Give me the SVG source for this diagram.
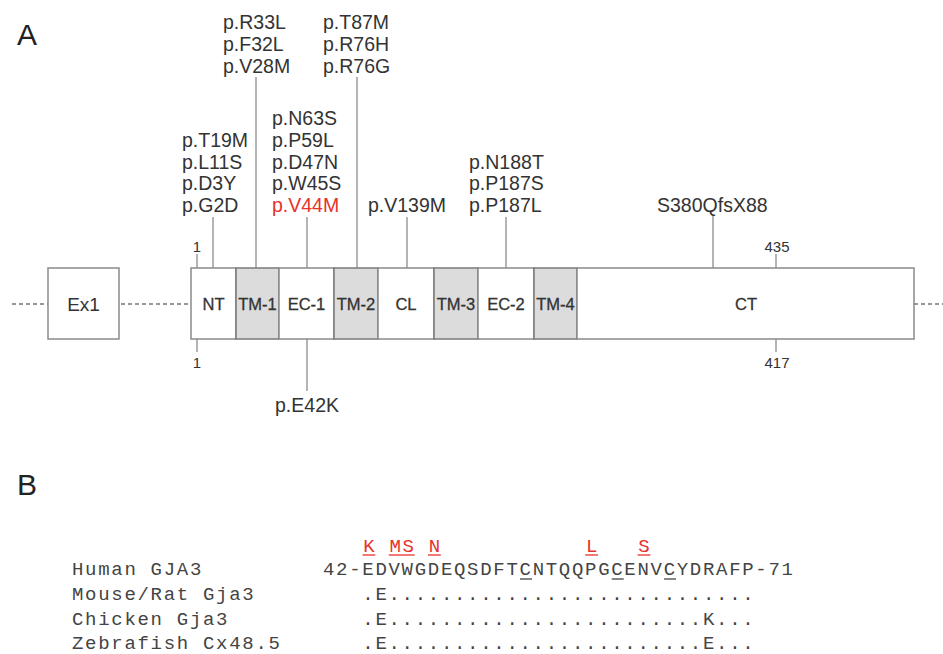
<svg xmlns="http://www.w3.org/2000/svg" width="943" height="654" viewBox="0 0 943 654">
<style>
.bg{fill:#fff}
.box{fill:#fff;stroke:#8a8a8a;stroke-width:1.5}
.tm{fill:#dcdcdc;stroke:#7a7a7a;stroke-width:1.5}
.dash{stroke:#777;stroke-width:1.5;stroke-dasharray:4 3;fill:none}
.ln{stroke:#8c8c8c;stroke-width:1.3;fill:none}
.dom{font-family:"Liberation Sans",Arial,sans-serif;font-size:16.5px;fill:#333;stroke:#333;stroke-width:0.3;text-anchor:middle}
.ex{font-family:"Liberation Sans",Arial,sans-serif;font-size:19px;fill:#333;text-anchor:middle}
.mut{font-family:"Liberation Sans",Arial,sans-serif;font-size:19.5px;fill:#333}
.red{fill:#e8322c}
.num{font-family:"Liberation Sans",Arial,sans-serif;font-size:15px;fill:#333;text-anchor:middle}
.pan{font-family:"Liberation Sans",Arial,sans-serif;font-size:30px;fill:#222}
.mono{font-family:"Liberation Mono","Courier New",monospace;font-size:19px;fill:#444;letter-spacing:1.7px}
.monor{font-family:"Liberation Mono","Courier New",monospace;font-size:19px;fill:#e8322c;text-anchor:middle}
.ul{stroke:#e8322c;stroke-width:1.3}
.ulk{stroke:#444;stroke-width:1.3}
</style>
<rect class="bg" x="0" y="0" width="943" height="654"/>

<text class="pan" x="17" y="45">A</text>
<text class="pan" x="17" y="495">B</text>

<g id="connectors">
  <line class="dash" x1="12" y1="304" x2="48" y2="304"/>
  <line class="dash" x1="121" y1="304" x2="191" y2="304"/>
  <line class="dash" x1="914" y1="304" x2="943" y2="304"/>
  <line class="ln" x1="197" y1="254" x2="197" y2="268"/>
  <line class="ln" x1="213" y1="217" x2="213" y2="268"/>
  <line class="ln" x1="256" y1="77" x2="256" y2="268"/>
  <line class="ln" x1="307" y1="217" x2="307" y2="268"/>
  <line class="ln" x1="357" y1="77" x2="357" y2="268"/>
  <line class="ln" x1="407" y1="217" x2="407" y2="268"/>
  <line class="ln" x1="506" y1="217" x2="506" y2="268"/>
  <line class="ln" x1="713" y1="216" x2="713" y2="268"/>
  <line class="ln" x1="776" y1="254" x2="776" y2="268"/>
  <line class="ln" x1="197" y1="339" x2="197" y2="352"/>
  <line class="ln" x1="307" y1="339" x2="307" y2="391"/>
  <line class="ln" x1="776" y1="339" x2="776" y2="352"/>
</g>

<g id="ex1"><rect class="box" x="48" y="268" width="71" height="71"/><text class="ex" x="83.5" y="311">Ex1</text></g>
<g id="nt"><rect class="box" x="191" y="268" width="45" height="71"/><text class="dom" x="213.5" y="310">NT</text></g>
<g id="tm1"><rect class="tm" x="236" y="268" width="43" height="71"/><text class="dom" x="257.5" y="310">TM-1</text></g>
<g id="ec1"><rect class="box" x="279" y="268" width="55" height="71"/><text class="dom" x="306.5" y="310">EC-1</text></g>
<g id="tm2"><rect class="tm" x="334" y="268" width="44" height="71"/><text class="dom" x="356" y="310">TM-2</text></g>
<g id="cl"><rect class="box" x="378" y="268" width="56" height="71"/><text class="dom" x="406" y="310">CL</text></g>
<g id="tm3"><rect class="tm" x="434" y="268" width="44" height="71"/><text class="dom" x="456" y="310">TM-3</text></g>
<g id="ec2"><rect class="box" x="478" y="268" width="56" height="71"/><text class="dom" x="506" y="310">EC-2</text></g>
<g id="tm4"><rect class="tm" x="534" y="268" width="43" height="71"/><text class="dom" x="555.5" y="310">TM-4</text></g>
<g id="ct"><rect class="box" x="577" y="268" width="337" height="71"/><text class="dom" x="746" y="310">CT</text></g>

<g id="pos-labels">
  <text class="num" x="197" y="252">1</text>
  <text class="num" x="777" y="252">435</text>
  <text class="num" x="197" y="368">1</text>
  <text class="num" x="777" y="368">417</text>
</g>

<g id="mut-nt" class="mut">
  <text x="182" y="147">p.T19M</text>
  <text x="182" y="168.7">p.L11S</text>
  <text x="182" y="190.3">p.D3Y</text>
  <text x="182" y="212">p.G2D</text>
</g>
<g id="mut-tm1" class="mut">
  <text x="223" y="29.3">p.R33L</text>
  <text x="223" y="51">p.F32L</text>
  <text x="223" y="72.7">p.V28M</text>
</g>
<g id="mut-tm2" class="mut">
  <text x="323" y="29.3">p.T87M</text>
  <text x="323" y="51">p.R76H</text>
  <text x="323" y="72.7">p.R76G</text>
</g>
<g id="mut-ec1" class="mut">
  <text x="272" y="125.3">p.N63S</text>
  <text x="272" y="147">p.P59L</text>
  <text x="272" y="168.7">p.D47N</text>
  <text x="272" y="190.3">p.W45S</text>
  <text x="272" y="212" class="red">p.V44M</text>
</g>
<g id="mut-cl" class="mut"><text x="368" y="212">p.V139M</text></g>
<g id="mut-ec2" class="mut">
  <text x="469" y="168.7">p.N188T</text>
  <text x="469" y="190.3">p.P187S</text>
  <text x="469" y="212">p.P187L</text>
</g>
<g id="mut-ct" class="mut"><text x="657" y="212">S380QfsX88</text></g>
<g id="mut-e42k" class="mut"><text x="307" y="412" text-anchor="middle">p.E42K</text></g>

<g id="alignment">
  <text class="monor" x="368.9" y="552">K</text>
  <text class="monor" x="395.1" y="552">M</text>
  <text class="monor" x="408.2" y="552">S</text>
  <text class="monor" x="434.4" y="552">N</text>
  <text class="monor" x="591.6" y="552">L</text>
  <text class="monor" x="644.0" y="552">S</text>
  <line class="ul" x1="362.5" y1="555" x2="375.3" y2="555"/>
  <line class="ul" x1="388.7" y1="555" x2="414.6" y2="555"/>
  <line class="ul" x1="428" y1="555" x2="440.8" y2="555"/>
  <line class="ul" x1="585.2" y1="555" x2="598" y2="555"/>
  <line class="ul" x1="637.6" y1="555" x2="650.4" y2="555"/>

  <text class="mono" x="72" y="574.5">Human GJA3</text>
  <text class="mono" x="323" y="574.5">42-EDVWGDEQSDFTCNTQQPGCENVCYDRAFP-71</text>
  <line class="ulk" x1="520" y1="579" x2="532" y2="579"/>
  <line class="ulk" x1="611.7" y1="579" x2="623.7" y2="579"/>
  <line class="ulk" x1="664.1" y1="579" x2="676.1" y2="579"/>

  <text class="mono" x="72" y="599.5">Mouse/Rat Gja3</text>
  <text class="mono" x="362.3" y="599.5">.E............................</text>
  <text class="mono" x="72" y="624.5">Chicken Gja3</text>
  <text class="mono" x="362.3" y="624.5">.E........................K...</text>
  <text class="mono" x="72" y="649">Zebrafish Cx48.5</text>
  <text class="mono" x="362.3" y="649">.E........................E...</text>
</g>
</svg>
